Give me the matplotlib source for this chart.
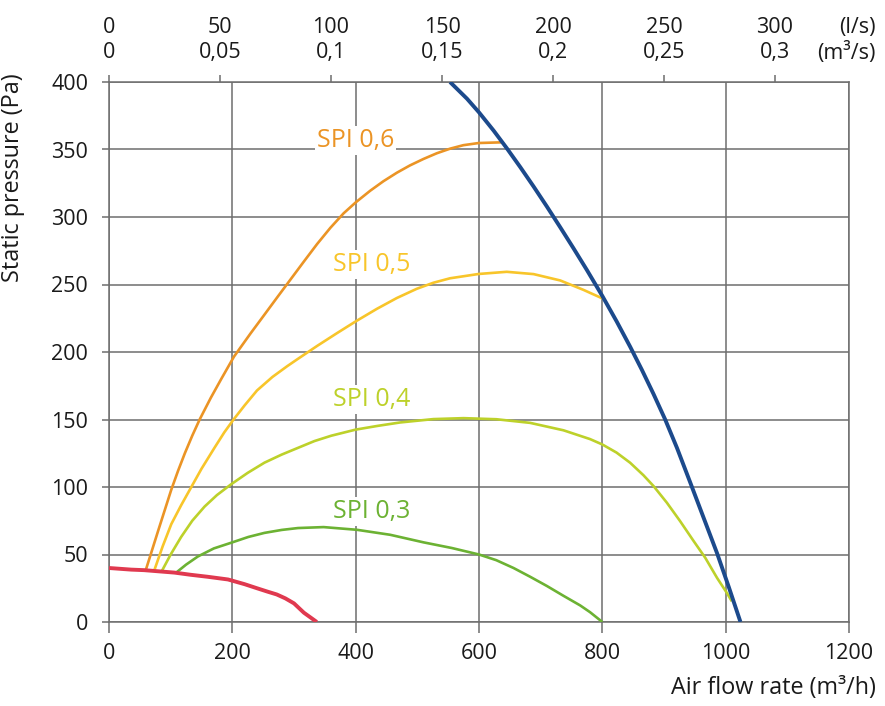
import numpy as np
import matplotlib
matplotlib.use("Agg")
import matplotlib.pyplot as plt

plt.rcParams["font.family"] = ["Open Sans", "DejaVu Sans"]

# fan curve (max speed) and min curve
fan_x = [553, 580.6, 600, 623.7, 645.3, 667, 688.5, 710, 731.7, 753, 775, 800,
         823.4, 845, 864, 883, 902, 921, 942, 964, 986, 1005, 1024]
fan_y = [400, 387.6, 377.5, 364, 350.8, 336.9, 322.6, 307.8, 292.4, 277, 260.7, 241.5,
         222.5, 204, 186.9, 168.9, 149.9, 129, 104, 77.5, 51, 26, 0]

min_x = [0, 36, 57, 106, 132, 160, 193, 220, 240, 257, 272, 286, 300, 316, 337]
min_y = [40, 38.8, 38.4, 36.6, 35, 33.5, 31.5, 28, 25, 22.5, 20.4, 17.5, 13.8, 6.9, 0]

# SPI iso-lines
spi6_x = [60, 80, 101, 112, 123, 135, 147, 165, 182, 202.7, 229.6, 251, 272.8, 294,
          316, 337.5, 359, 380.6, 400.5, 423.7, 445, 466.8, 488, 510, 531.5, 553,
          574.7, 599.5, 636]
spi6_y = [39, 68, 98, 112, 125, 138, 150, 166, 180, 196.6, 213.8, 227, 240.5, 253.5,
          267, 280, 292, 302.8, 311, 319.5, 326.5, 332.8, 338.2, 343, 347.2, 350.6,
          353.2, 354.8, 355.3]

spi5_x = [74, 87, 101, 117, 133.5, 150, 171, 187, 202, 220, 240, 265, 289, 305,
          337.5, 369.8, 400.5, 434.5, 466.8, 499, 526, 553, 599.5, 645, 688.5,
          731.7, 769.5, 800]
spi5_y = [39, 56, 72.5, 86.5, 100, 113.5, 129, 140.5, 150, 160.5, 171.5, 181.5, 189.5, 194.5,
          204.5, 214, 222.8, 232, 240, 246.8, 251.3, 254.6, 257.8, 259.4, 257.7,
          253, 246, 239.7]

spi4_x = [86, 100, 117, 135, 155, 175, 198, 225, 252, 280, 306.5, 333, 360.5, 400,
          436, 472, 526, 575, 628, 683, 737, 780, 800, 823, 845, 866.7, 883, 904.6,
          926, 948, 967, 986, 1002, 1010]
spi4_y = [38, 50, 63, 75, 85.5, 94, 102, 110.5, 118, 124, 129, 134, 138, 142.5,
          145.3, 147.8, 150.3, 151, 150.2, 147.5, 142, 135.5, 131.5, 125.5, 118, 108.7, 100.7, 88.4,
          74.8, 60, 47.5, 32.7, 21.5, 15.3]

spi3_x = [109, 125, 144, 170, 200, 226, 252, 280, 306.5, 348, 402, 456, 510, 556,
          600, 628, 656, 683, 710, 737, 764, 780, 800]
spi3_y = [36.6, 42.5, 48.5, 54.5, 59, 63, 66, 68.2, 69.6, 70.3, 68.3, 64.6, 59, 54.8,
          50, 45.8, 40, 33.5, 26.7, 19.4, 12.3, 7.3, 0]

spi_labels = ["SPI 0,6", "SPI 0,5", "SPI 0,4", "SPI 0,3"]
spi_label_x = [337, 364, 364, 364]
spi_label_y = [357, 265, 165, 82]
spi_colors = ["#EB9425", "#F8C52A", "#BDD12A", "#6CB233"]

x_ticks = [0, 200, 400, 600, 800, 1000, 1200]
y_ticks = [0, 50, 100, 150, 200, 250, 300, 350, 400]
ls_ticks = [0, 50, 100, 150, 200, 250, 300]
m3s_labels = ["0", "0,05", "0,1", "0,15", "0,2", "0,25", "0,3"]

grid_col = "#6e6e6e"
txt_col = "#1a1a1a"

fig = plt.figure(figsize=(8.85, 7.06), dpi=100)
ax = fig.add_axes([109 / 885, 84 / 706, 740 / 885, 540 / 706])

ax.set_xlim(0, 1200)
ax.set_ylim(0, 400)
ax.set_xticks(x_ticks)
ax.set_yticks(y_ticks)
ax.grid(True, color=grid_col, linewidth=1.1)
ax.set_axisbelow(True)
for s in ax.spines.values():
    s.set_color(grid_col)
    s.set_linewidth(1.1)
ax.tick_params(axis="x", length=8, width=1.1, color=grid_col, pad=7,
               labelsize=15.5, labelcolor=txt_col)
ax.tick_params(axis="y", length=5, width=1.1, color=grid_col, pad=10,
               labelsize=15.5, labelcolor=txt_col)

spi_x = [spi6_x, spi5_x, spi4_x, spi3_x]
spi_y = [spi6_y, spi5_y, spi4_y, spi3_y]
for xs, ys, c in zip(spi_x, spi_y, spi_colors):
    ax.plot(xs, ys, color=c, linewidth=1.9, solid_capstyle="butt",
            solid_joinstyle="round", zorder=3)

ax.plot(min_x, min_y, color="#E0394F", linewidth=2.8, solid_capstyle="butt",
        solid_joinstyle="round", zorder=4)
ax.plot(fan_x, fan_y, color="#1C4A8C", linewidth=2.8, solid_capstyle="butt",
        solid_joinstyle="round", zorder=5)

for lab, lx, ly, c in zip(spi_labels, spi_label_x, spi_label_y, spi_colors):
    ax.text(lx, ly, lab, color=c, fontsize=18, ha="left", va="center", zorder=6,
            bbox=dict(facecolor="white", edgecolor="none", pad=1.5))

# secondary top axis in l/s and m3/s
top = ax.twiny()
top.set_xlim(ax.get_xlim())
top.set_xticks([v * 3.6 for v in ls_ticks])
top.set_xticklabels([f"{a}\n{b}" for a, b in zip(ls_ticks, m3s_labels)],
                    linespacing=1.2)
top.tick_params(axis="x", length=5, width=1.1, color=grid_col, pad=9,
                labelsize=15.5, labelcolor=txt_col)
for s in top.spines.values():
    s.set_visible(False)

fig.text(876 / 885, 1 - 27 / 706, "(l/s)", fontsize=15.5, color=txt_col,
         ha="right", va="center")
fig.text(876 / 885, 1 - 53 / 706, "(m³/s)", fontsize=15.5, color=txt_col,
         ha="right", va="center")

fig.text(876 / 885, 1 - 688 / 706, "Air flow rate (m³/h)", fontsize=16.8,
         color=txt_col, ha="right", va="center")
fig.text(13 / 885, 1 - 73 / 706, "Static pressure (Pa)", fontsize=16.8,
         color=txt_col, ha="center", va="top", rotation=90)

fig.savefig("out.png", dpi=100)
